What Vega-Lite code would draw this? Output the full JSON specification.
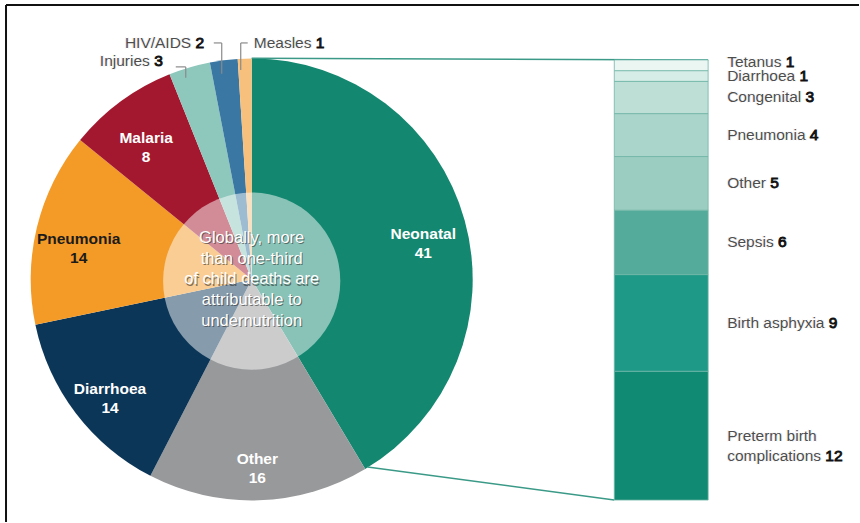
{
  "$schema": "https://vega.github.io/schema/vega-lite/v6.json",
  "width": 860,
  "height": 523,
  "autosize": {"type": "fit", "contains": "padding"},
  "padding": 0,
  "background": "white",
  "config": {
    "view": {"stroke": null},
    "axis": {"disable": true},
    "legend": {"disable": true},
    "text": {"font": "Liberation Sans"}
  },
  "datasets": {
    "pie": [
      {"cause": "Neonatal", "value": 41, "order": 1, "label": "Neonatal 41"},
      {"cause": "Other", "value": 16, "order": 2, "label": "Other 16"},
      {"cause": "Diarrhoea", "value": 14, "order": 3, "label": "Diarrhoea 14"},
      {"cause": "Pneumonia", "value": 14, "order": 4, "label": "Pneumonia 14"},
      {"cause": "Malaria", "value": 8, "order": 5, "label": "Malaria 8"},
      {"cause": "Injuries", "value": 3, "order": 6, "label": "Injuries 3"},
      {"cause": "HIV/AIDS", "value": 2, "order": 7, "label": "HIV/AIDS 2"},
      {"cause": "Measles", "value": 1, "order": 8, "label": "Measles 1"}
    ],
    "neo": [
      {"name": "Preterm birth\ncomplications", "label": "Preterm birth\ncomplications 12", "value": 12, "order": 1},
      {"name": "Birth asphyxia", "label": "Birth asphyxia 9", "value": 9, "order": 2},
      {"name": "Sepsis", "label": "Sepsis 6", "value": 6, "order": 3},
      {"name": "Other", "label": "Other 5", "value": 5, "order": 4},
      {"name": "Pneumonia", "label": "Pneumonia 4", "value": 4, "order": 5},
      {"name": "Congenital", "label": "Congenital 3", "value": 3, "order": 6},
      {"name": "Diarrhoea", "label": "Diarrhoea 1", "value": 1, "order": 7},
      {"name": "Tetanus", "label": "Tetanus 1", "value": 1, "order": 8}
    ],
    "note": [
      {"text": "Globally, more\nthan one-third\nof child deaths are\nattributable to\nundernutrition"}
    ]
  },
  "resolve": {"scale": {"color": "independent"}},
  "layer": [
    {
      "data": {"name": "pie"},
      "mark": {"type": "arc", "outerRadius": 221},
      "encoding": {
        "x": {"datum": 23.44, "type": "quantitative", "scale": {"domain": [0, 80], "nice": false, "zero": false}},
        "y": {"datum": 20.55, "type": "quantitative", "scale": {"domain": [-2.045, 46.58], "nice": false, "zero": false}},
        "theta": {"field": "value", "type": "quantitative", "stack": true},
        "order": {"field": "order", "type": "quantitative"},
        "color": {
          "field": "cause", "type": "nominal", "legend": null,
          "scale": {
            "domain": ["Neonatal", "Other", "Diarrhoea", "Pneumonia", "Malaria", "Injuries", "HIV/AIDS", "Measles"],
            "range": ["#13876f", "#98999b", "#0c3658", "#f39a27", "#a3182f", "#8ec7bc", "#3a77a3", "#f7c07d"]
          }
        }
      }
    },
    {
      "data": {"name": "note"},
      "mark": {"type": "point", "shape": "circle", "filled": true, "size": 31416, "color": "white", "opacity": 0.5, "strokeWidth": 0},
      "encoding": {
        "x": {"datum": 23.44, "type": "quantitative"},
        "y": {"datum": 20.40, "type": "quantitative"}
      }
    },
    {
      "data": {"name": "note"},
      "encoding": {
        "x": {"datum": 23.44, "type": "quantitative"},
        "y": {"datum": 20.55, "type": "quantitative"},
        "text": {"field": "text", "type": "nominal"}
      },
      "layer": [
        {"mark": {"type": "text", "lineBreak": "\n", "fontSize": 16.5, "lineHeight": 20.7, "color": "#333333", "opacity": 0.6, "dx": 1, "dy": -40.2}},
        {"mark": {"type": "text", "lineBreak": "\n", "fontSize": 16.5, "lineHeight": 20.7, "color": "white", "dy": -41.4}}
      ]
    },
    {
      "data": {"name": "pie"},
      "transform": [{"filter": "datum.order <= 5"}],
      "encoding": {
        "x": {"datum": 23.44, "type": "quantitative"},
        "y": {"datum": 20.55, "type": "quantitative"},
        "theta": {"field": "value", "type": "quantitative", "stack": true},
        "order": {"field": "order", "type": "quantitative"},
        "detail": {"field": "cause", "type": "nominal"},
        "color": {"condition": {"test": "datum.cause === 'Pneumonia'", "value": "#1b1b1b"}, "value": "white"}
      },
      "layer": [
        {"mark": {"type": "text", "radius": 178, "dy": 2, "fontSize": 15.5, "fontWeight": "bold"}, "encoding": {"text": {"field": "cause", "type": "nominal"}}},
        {"mark": {"type": "text", "radius": 178, "dy": 21, "fontSize": 15.5, "fontWeight": "bold"}, "encoding": {"text": {"field": "value", "type": "quantitative"}}}
      ]
    },
    {
      "data": {"values": [{}]},
      "layer": [
        {"mark": {"type": "rule", "color": "#3b9a87", "strokeWidth": 1.5},
         "encoding": {"x": {"datum": 23.44, "type": "quantitative"}, "y": {"datum": 41.15, "type": "quantitative"}, "x2": {"datum": 65.95}, "y2": {"datum": 41.0}}},
        {"mark": {"type": "rule", "color": "#3b9a87", "strokeWidth": 1.5},
         "encoding": {"x": {"datum": 34.23, "type": "quantitative"}, "y": {"datum": 3.07, "type": "quantitative"}, "x2": {"datum": 57.21}, "y2": {"datum": 0}}}
      ]
    },
    {
      "data": {"name": "neo"},
      "transform": [{"stack": "value", "groupby": [], "sort": [{"field": "order", "order": "ascending"}], "as": ["v0", "v1"]}],
      "mark": {"type": "rect", "stroke": "#6fb5a7", "strokeWidth": 0.8},
      "encoding": {
        "x": {"datum": 57.21, "type": "quantitative"},
        "x2": {"datum": 65.95},
        "y": {"field": "v0", "type": "quantitative"},
        "y2": {"field": "v1"},
        "color": {
          "field": "name", "type": "nominal", "legend": null,
          "scale": {
            "domain": ["Preterm birth\ncomplications", "Birth asphyxia", "Sepsis", "Other", "Pneumonia", "Congenital", "Diarrhoea", "Tetanus"],
            "range": ["#108a72", "#1f9987", "#54ab9b", "#9ccdc1", "#a9d5ca", "#bddfd6", "#d6ece6", "#ebf5f2"]
          }
        }
      }
    },
    {
      "data": {"name": "neo"},
      "encoding": {
        "x": {"datum": 67.72, "type": "quantitative"},
        "y": {"field": "value", "type": "quantitative", "stack": "zero", "bandPosition": 0.5},
        "order": {"field": "order", "type": "quantitative"},
        "detail": {"field": "name", "type": "nominal"}
      },
      "layer": [
        {"mark": {"type": "text", "align": "left", "fontSize": 15.5, "fill": "#111111", "stroke": "#111111", "strokeWidth": 0.9},
         "encoding": {"text": {"condition": {"test": "datum.order >= 2 && datum.order <= 7", "field": "label", "type": "nominal"}, "value": ""}}},
        {"mark": {"type": "text", "align": "left", "fontSize": 15.5, "fill": "white", "stroke": "white", "strokeWidth": 1.8},
         "encoding": {"text": {"condition": {"test": "datum.order >= 2 && datum.order <= 7", "field": "name", "type": "nominal"}, "value": ""}}},
        {"mark": {"type": "text", "align": "left", "fontSize": 15.5, "fill": "#4d4d4d"},
         "encoding": {"text": {"condition": {"test": "datum.order >= 2 && datum.order <= 7", "field": "name", "type": "nominal"}, "value": ""}}}
      ]
    },
    {
      "data": {"name": "neo"},
      "encoding": {
        "x": {"datum": 67.72, "type": "quantitative"},
        "y": {"field": "value", "type": "quantitative", "stack": "zero", "bandPosition": 0.85},
        "order": {"field": "order", "type": "quantitative"},
        "detail": {"field": "name", "type": "nominal"}
      },
      "layer": [
        {"mark": {"type": "text", "align": "left", "fontSize": 15.5, "fill": "#111111", "stroke": "#111111", "strokeWidth": 0.9},
         "encoding": {"text": {"condition": {"test": "datum.order === 8", "field": "label", "type": "nominal"}, "value": ""}}},
        {"mark": {"type": "text", "align": "left", "fontSize": 15.5, "fill": "white", "stroke": "white", "strokeWidth": 1.8},
         "encoding": {"text": {"condition": {"test": "datum.order === 8", "field": "name", "type": "nominal"}, "value": ""}}},
        {"mark": {"type": "text", "align": "left", "fontSize": 15.5, "fill": "#4d4d4d"},
         "encoding": {"text": {"condition": {"test": "datum.order === 8", "field": "name", "type": "nominal"}, "value": ""}}}
      ]
    },
    {
      "data": {"name": "neo"},
      "encoding": {
        "x": {"datum": 67.72, "type": "quantitative"},
        "y": {"field": "value", "type": "quantitative", "stack": "zero", "bandPosition": 0.42},
        "order": {"field": "order", "type": "quantitative"},
        "detail": {"field": "name", "type": "nominal"}
      },
      "layer": [
        {"mark": {"type": "text", "align": "left", "lineBreak": "\n", "lineHeight": 20, "dy": -10, "fontSize": 15.5, "fill": "#111111", "stroke": "#111111", "strokeWidth": 0.9},
         "encoding": {"text": {"condition": {"test": "datum.order === 1", "field": "label", "type": "nominal"}, "value": ""}}},
        {"mark": {"type": "text", "align": "left", "lineBreak": "\n", "lineHeight": 20, "dy": -10, "fontSize": 15.5, "fill": "white", "stroke": "white", "strokeWidth": 1.8},
         "encoding": {"text": {"condition": {"test": "datum.order === 1", "field": "name", "type": "nominal"}, "value": ""}}},
        {"mark": {"type": "text", "align": "left", "lineBreak": "\n", "lineHeight": 20, "dy": -10, "fontSize": 15.5, "fill": "#4d4d4d"},
         "encoding": {"text": {"condition": {"test": "datum.order === 1", "field": "name", "type": "nominal"}, "value": ""}}}
      ]
    },
    {
      "data": {"name": "pie"},
      "transform": [{"filter": "datum.cause === 'Injuries'"}],
      "encoding": {"x": {"datum": 9.30, "type": "quantitative"}, "y": {"datum": 40.91, "type": "quantitative"}},
      "layer": [
        {"mark": {"type": "text", "align": "left", "fontSize": 15.5, "fill": "#111111", "stroke": "#111111", "strokeWidth": 0.9}, "encoding": {"text": {"field": "label", "type": "nominal"}}},
        {"mark": {"type": "text", "align": "left", "fontSize": 15.5, "fill": "white", "stroke": "white", "strokeWidth": 1.8}, "encoding": {"text": {"field": "cause", "type": "nominal"}}},
        {"mark": {"type": "text", "align": "left", "fontSize": 15.5, "fill": "#4d4d4d"}, "encoding": {"text": {"field": "cause", "type": "nominal"}}}
      ]
    },
    {
      "data": {"name": "pie"},
      "transform": [{"filter": "datum.cause === 'HIV/AIDS'"}],
      "encoding": {"x": {"datum": 11.63, "type": "quantitative"}, "y": {"datum": 42.58, "type": "quantitative"}},
      "layer": [
        {"mark": {"type": "text", "align": "left", "fontSize": 15.5, "fill": "#111111", "stroke": "#111111", "strokeWidth": 0.9}, "encoding": {"text": {"field": "label", "type": "nominal"}}},
        {"mark": {"type": "text", "align": "left", "fontSize": 15.5, "fill": "white", "stroke": "white", "strokeWidth": 1.8}, "encoding": {"text": {"field": "cause", "type": "nominal"}}},
        {"mark": {"type": "text", "align": "left", "fontSize": 15.5, "fill": "#4d4d4d"}, "encoding": {"text": {"field": "cause", "type": "nominal"}}}
      ]
    },
    {
      "data": {"name": "pie"},
      "transform": [{"filter": "datum.cause === 'Measles'"}],
      "encoding": {"x": {"datum": 23.63, "type": "quantitative"}, "y": {"datum": 42.58, "type": "quantitative"}},
      "layer": [
        {"mark": {"type": "text", "align": "left", "fontSize": 15.5, "fill": "#111111", "stroke": "#111111", "strokeWidth": 0.9}, "encoding": {"text": {"field": "label", "type": "nominal"}}},
        {"mark": {"type": "text", "align": "left", "fontSize": 15.5, "fill": "white", "stroke": "white", "strokeWidth": 1.8}, "encoding": {"text": {"field": "cause", "type": "nominal"}}},
        {"mark": {"type": "text", "align": "left", "fontSize": 15.5, "fill": "#4d4d4d"}, "encoding": {"text": {"field": "cause", "type": "nominal"}}}
      ]
    },
    {
      "data": {"values": [{}]},
      "layer": [
        {"mark": {"type": "rule", "color": "#8a8a8a", "strokeWidth": 1.2},
         "encoding": {"x": {"datum": 16.37, "type": "quantitative"}, "y": {"datum": 40.35, "type": "quantitative"}, "x2": {"datum": 17.30}, "y2": {"datum": 40.35}}},
        {"mark": {"type": "rule", "color": "#8a8a8a", "strokeWidth": 1.2},
         "encoding": {"x": {"datum": 17.30, "type": "quantitative"}, "y": {"datum": 40.35, "type": "quantitative"}, "x2": {"datum": 17.30}, "y2": {"datum": 39.33}}},
        {"mark": {"type": "rule", "color": "#8a8a8a", "strokeWidth": 1.2},
         "encoding": {"x": {"datum": 19.91, "type": "quantitative"}, "y": {"datum": 42.58, "type": "quantitative"}, "x2": {"datum": 20.65}, "y2": {"datum": 42.58}}},
        {"mark": {"type": "rule", "color": "#8a8a8a", "strokeWidth": 1.2},
         "encoding": {"x": {"datum": 20.65, "type": "quantitative"}, "y": {"datum": 42.58, "type": "quantitative"}, "x2": {"datum": 20.65}, "y2": {"datum": 39.70}}},
        {"mark": {"type": "rule", "color": "#8a8a8a", "strokeWidth": 1.2},
         "encoding": {"x": {"datum": 22.42, "type": "quantitative"}, "y": {"datum": 42.58, "type": "quantitative"}, "x2": {"datum": 23.07}, "y2": {"datum": 42.58}}},
        {"mark": {"type": "rule", "color": "#8a8a8a", "strokeWidth": 1.2},
         "encoding": {"x": {"datum": 22.42, "type": "quantitative"}, "y": {"datum": 42.58, "type": "quantitative"}, "x2": {"datum": 22.42}, "y2": {"datum": 40.07}}},
        {"mark": {"type": "rule", "color": "#111111", "strokeWidth": 2},
         "encoding": {"x": {"datum": 0.56, "type": "quantitative"}, "y": {"datum": 46.11, "type": "quantitative"}, "x2": {"datum": 80}, "y2": {"datum": 46.11}}},
        {"mark": {"type": "rule", "color": "#111111", "strokeWidth": 2},
         "encoding": {"x": {"datum": 0.56, "type": "quantitative"}, "y": {"datum": 46.11, "type": "quantitative"}, "x2": {"datum": 0.56}, "y2": {"datum": -2.045}}}
      ]
    }
  ]
}
